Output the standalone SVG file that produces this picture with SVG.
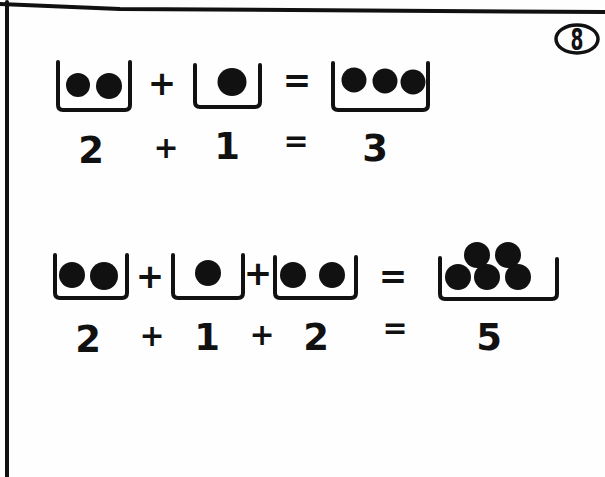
<svg xmlns="http://www.w3.org/2000/svg" width="605" height="477" viewBox="0 0 605 477">
<style>
.frame{fill:none;stroke:#111;stroke-width:4;stroke-linecap:round;stroke-linejoin:round}
.box{fill:none;stroke:#111;stroke-width:4;stroke-linecap:round;stroke-linejoin:round}
.ball{fill:#111}
.num{font-family:"DejaVu Sans","Liberation Sans",sans-serif;font-size:37px;font-weight:bold;fill:#111;text-anchor:middle}
.op{font-family:"DejaVu Sans","Liberation Sans",sans-serif;font-size:34px;font-weight:bold;fill:#111;text-anchor:middle}
.opl{font-family:"DejaVu Sans","Liberation Sans",sans-serif;font-size:30px;font-weight:bold;fill:#111;text-anchor:middle}
</style>
<rect width="605" height="477" fill="#fefefe"/>
<g id="frame">
<path class="frame" d="M0,4 L120,9 L605,12"/>
<path class="frame" d="M7,2 L7,477"/>
</g>
<g id="label8">
<ellipse cx="577" cy="39" rx="21" ry="14" fill="none" stroke="#111" stroke-width="3.5"/>
<text x="577" y="50" font-family="DejaVu Sans,sans-serif" font-size="31" font-weight="bold" fill="#111" text-anchor="middle" transform="translate(577 0) scale(0.6 1) translate(-577 0)">8</text>
</g>
<g id="row1">
<g id="r1-box1">
<path class="box" d="M58,62 L58,105 Q58,110 63,110 L125,110 Q130,110 130,105 L130,62"/>
<circle class="ball" cx="78" cy="85" r="12"/>
<circle class="ball" cx="109" cy="86" r="13"/>
</g>
<text class="op" x="162" y="95">+</text>
<g id="r1-box2">
<path class="box" d="M195,65 L195,102 Q195,107 200,107 L255,107 Q260,107 260,102 L260,65"/>
<ellipse class="ball" cx="232" cy="82" rx="14.5" ry="14"/>
</g>
<text class="op" x="297" y="92">=</text>
<g id="r1-box3">
<path class="box" d="M333,63 L333,105 Q333,110 338,110 L423,110 Q428,110 428,105 L428,63"/>
<circle class="ball" cx="354" cy="80" r="12.5"/>
<circle class="ball" cx="385" cy="81" r="12.5"/>
<circle class="ball" cx="413" cy="82" r="12.5"/>
</g>
<text class="num" x="91" y="163">2</text>
<text class="opl" x="166" y="158">+</text>
<text class="num" x="227" y="159">1</text>
<text class="opl" x="296" y="151">=</text>
<text class="num" x="375" y="161">3</text>
</g>
<g id="row2">
<g id="r2-box1">
<path class="box" d="M55,255 L55,293 Q55,298 60,298 L122,298 Q127,298 127,293 L127,255"/>
<circle class="ball" cx="72" cy="275" r="13"/>
<circle class="ball" cx="104" cy="276" r="14"/>
</g>
<text class="op" x="150" y="288">+</text>
<g id="r2-box2">
<path class="box" d="M173,255 L173,293 Q173,298 178,298 L238,298 Q243,298 243,293 L243,255"/>
<circle class="ball" cx="208" cy="273" r="13"/>
</g>
<text class="op" x="258" y="285">+</text>
<g id="r2-box3">
<path class="box" d="M275,257 L275,293 Q275,298 280,298 L351,298 Q356,298 356,293 L356,257"/>
<circle class="ball" cx="293" cy="275" r="13"/>
<circle class="ball" cx="332" cy="275" r="13"/>
</g>
<text class="op" x="393" y="288">=</text>
<g id="r2-box4">
<path class="box" d="M440,258 L440,294 Q440,299 445,299 L552,299 Q557,299 557,294 L557,259"/>
<circle class="ball" cx="477" cy="255" r="13"/>
<circle class="ball" cx="508" cy="255" r="13"/>
<circle class="ball" cx="458" cy="277" r="13"/>
<circle class="ball" cx="487" cy="277" r="13"/>
<circle class="ball" cx="518" cy="277" r="13"/>
</g>
<text class="num" x="88" y="352">2</text>
<text class="opl" x="152" y="346">+</text>
<text class="num" x="207" y="350">1</text>
<text class="opl" x="262" y="345">+</text>
<text class="num" x="316" y="350">2</text>
<text class="opl" x="395" y="338">=</text>
<text class="num" x="489" y="350">5</text>
</g>
</svg>
